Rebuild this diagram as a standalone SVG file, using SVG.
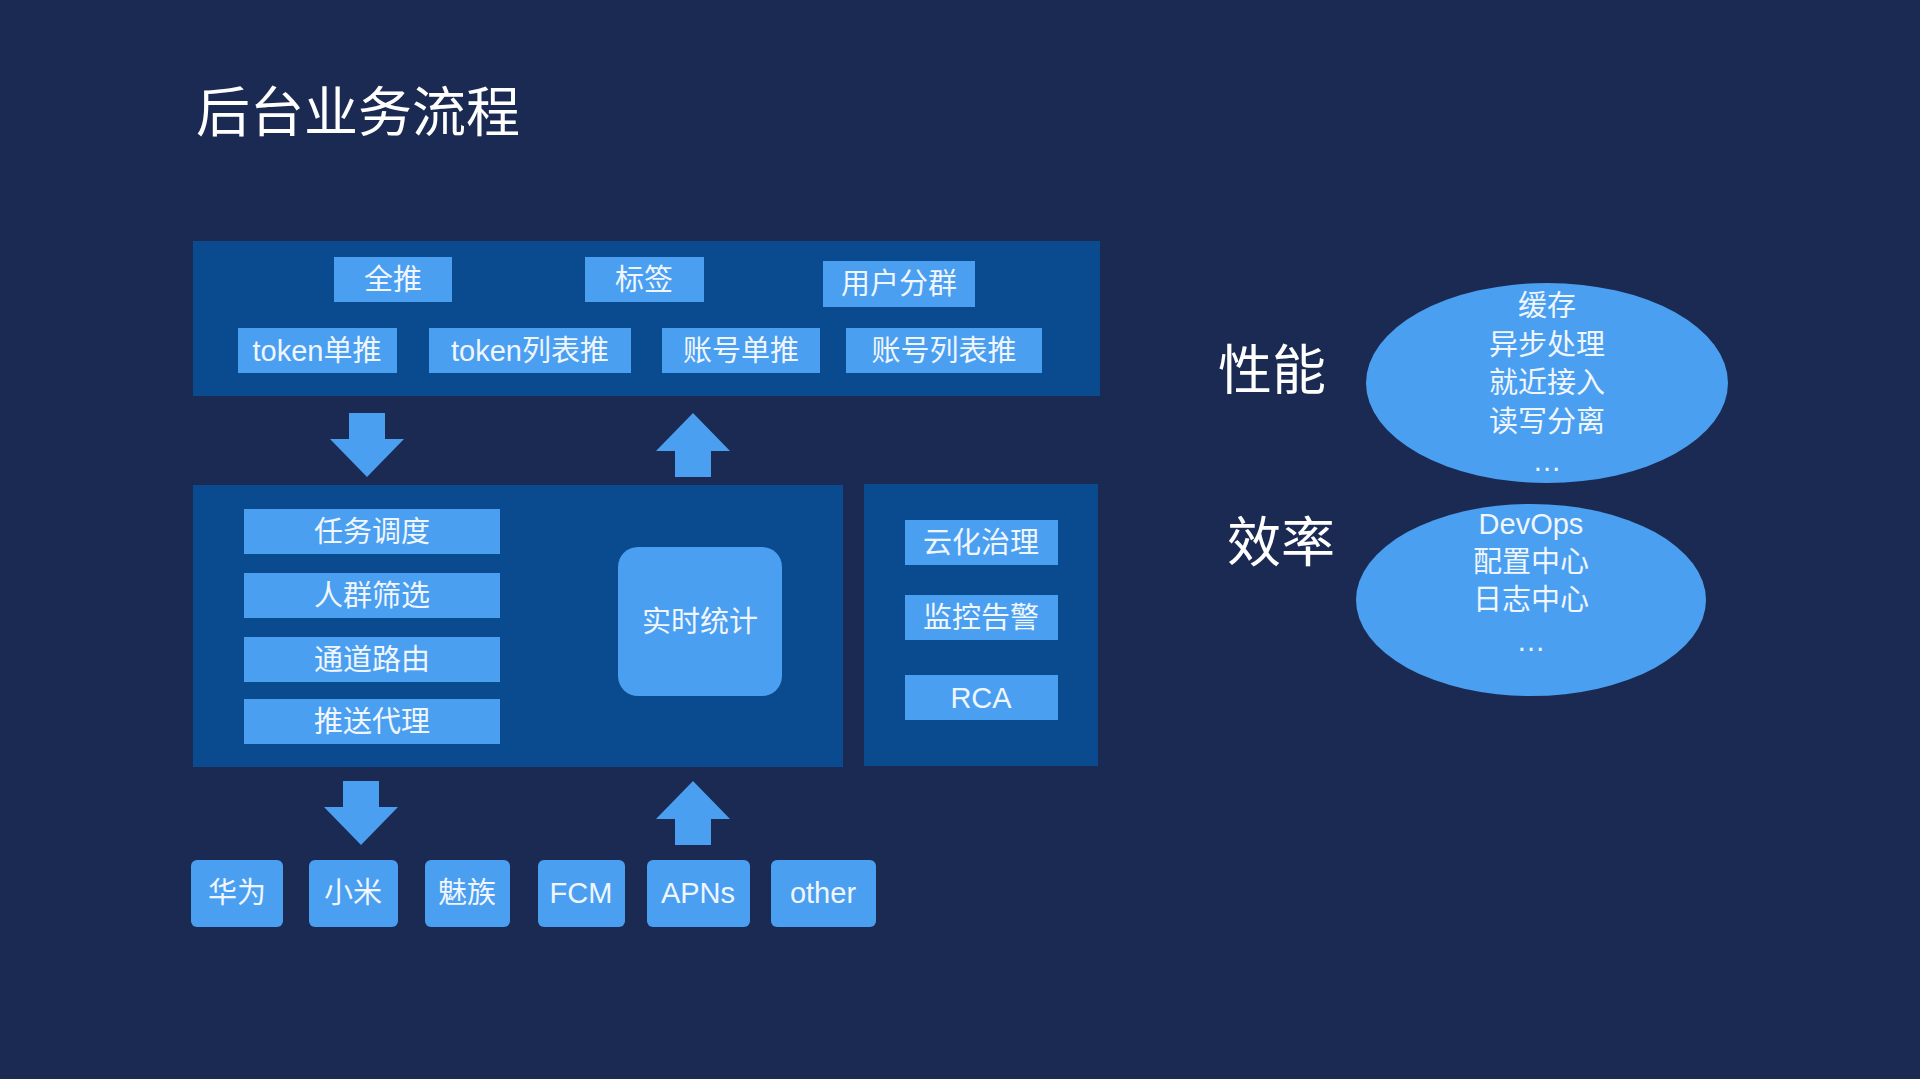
<svg xmlns="http://www.w3.org/2000/svg" width="1920" height="1079" viewBox="0 0 1920 1079">
<style>
.p{fill:#0a4a8e}
.b{fill:#4a9ff0}
.t{font-family:"Liberation Sans","Noto Sans CJK SC",sans-serif;font-size:29px;fill:#f0f6ff;text-anchor:middle;dominant-baseline:central}
.e{font-family:"Liberation Sans","Noto Sans CJK SC",sans-serif;font-size:29px;fill:#f0f6ff;text-anchor:middle;dominant-baseline:central}
.h{font-family:"Liberation Sans","Noto Sans CJK SC",sans-serif;font-size:54px;fill:#ffffff}
</style>
<defs>
<path id="down" d="M-18,0 H18 V26 H37 L0,64 L-37,26 H-18 Z" fill="#4a9ff0"/>
<path id="up" d="M-18,64 H18 V38 H37 L0,0 L-37,38 H-18 Z" fill="#4a9ff0"/>
</defs>
<rect width="1920" height="1079" fill="#1b2a52"/>
<text x="196" y="132" class="h" font-size="56">后台业务流程</text>
<g id="top"><rect class="p" x="193" y="241" width="907" height="155"/>
<rect class="b" x="334" y="257" width="118" height="45"/><text class="t" x="393" y="280">全推</text>
<rect class="b" x="585" y="257" width="119" height="45"/><text class="t" x="644" y="280">标签</text>
<rect class="b" x="823" y="261" width="152" height="46"/><text class="t" x="899" y="284">用户分群</text>
<rect class="b" x="238" y="328" width="159" height="45"/><text class="t" x="317" y="351">token单推</text>
<rect class="b" x="429" y="328" width="202" height="45"/><text class="t" x="530" y="351">token列表推</text>
<rect class="b" x="662" y="328" width="158" height="45"/><text class="t" x="741" y="351">账号单推</text>
<rect class="b" x="846" y="328" width="196" height="45"/><text class="t" x="944" y="351">账号列表推</text></g>
<g id="mid"><rect class="p" x="193" y="485" width="650" height="282"/>
<rect class="b" x="244" y="509" width="256" height="45"/><text class="t" x="372" y="532">任务调度</text>
<rect class="b" x="244" y="573" width="256" height="45"/><text class="t" x="372" y="596">人群筛选</text>
<rect class="b" x="244" y="637" width="256" height="45"/><text class="t" x="372" y="660">通道路由</text>
<rect class="b" x="244" y="699" width="256" height="45"/><text class="t" x="372" y="722">推送代理</text>
<rect class="b" x="618" y="547" width="164" height="149" rx="20"/><text class="t" x="700" y="622">实时统计</text></g>
<g id="right"><rect class="p" x="864" y="484" width="234" height="282"/>
<rect class="b" x="905" y="520" width="153" height="45"/><text class="t" x="981" y="543">云化治理</text>
<rect class="b" x="905" y="595" width="153" height="45"/><text class="t" x="981" y="618">监控告警</text>
<rect class="b" x="905" y="675" width="153" height="45"/><text class="t" x="981" y="698">RCA</text></g>
<g id="bottom">
<rect class="b" x="191" y="860" width="92" height="67" rx="6"/><text class="t" x="237" y="893">华为</text>
<rect class="b" x="309" y="860" width="89" height="67" rx="6"/><text class="t" x="353" y="893">小米</text>
<rect class="b" x="425" y="860" width="85" height="67" rx="6"/><text class="t" x="467" y="893">魅族</text>
<rect class="b" x="538" y="860" width="87" height="67" rx="6"/><text class="t" x="581" y="893">FCM</text>
<rect class="b" x="647" y="860" width="103" height="67" rx="6"/><text class="t" x="698" y="893">APNs</text>
<rect class="b" x="771" y="860" width="105" height="67" rx="6"/><text class="t" x="823" y="893">other</text></g>
<g id="connectors">
<use href="#down" x="367" y="413"/><use href="#up" x="693" y="413"/>
<use href="#down" x="361" y="781"/><use href="#up" x="693" y="781"/></g>
<g id="perf"><text class="h" x="1218" y="390">性能</text>
<ellipse class="b" cx="1547" cy="383" rx="181" ry="100"/>
<text class="e" x="1547" y="306">缓存</text><text class="e" x="1547" y="345">异步处理</text><text class="e" x="1547" y="383">就近接入</text><text class="e" x="1547" y="422">读写分离</text><text class="e" x="1547" y="461">…</text></g>
<g id="eff"><text class="h" x="1227" y="562">效率</text>
<ellipse class="b" cx="1531" cy="600" rx="175" ry="96"/>
<text class="e" x="1531" y="524">DevOps</text><text class="e" x="1531" y="562">配置中心</text><text class="e" x="1531" y="600">日志中心</text><text class="e" x="1531" y="641">…</text></g>
</svg>
